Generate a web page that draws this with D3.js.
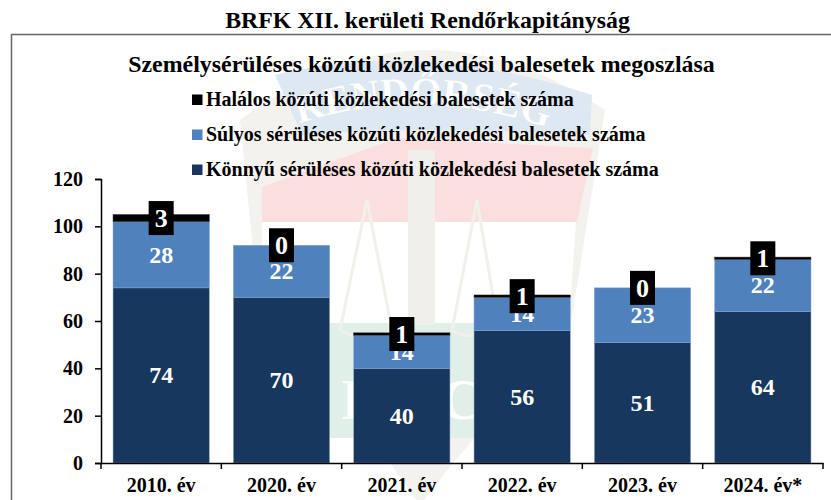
<!DOCTYPE html>
<html>
<head>
<meta charset="utf-8">
<script src="https://cdn.jsdelivr.net/npm/d3@7"></script>
<style>
  html, body { margin: 0; padding: 0; background: #fff; }
  svg { display: block; }
  text { font-family: "Liberation Serif", serif; font-weight: bold; }
</style>
</head>
<body>
<svg id="chart"></svg>
<script>
var years = ["2010. év", "2020. év", "2021. év", "2022. év", "2023. év", "2024. év*"];
var konnyu = [74, 70, 40, 56, 51, 64];
var sulyos = [28, 22, 14, 14, 23, 22];
var halalos = [3, 0, 1, 1, 0, 1];
var legendNames = [
  "Halálos közúti közlekedési balesetek száma",
  "Súlyos sérüléses közúti közlekedési balesetek száma",
  "Könnyű sérüléses közúti közlekedési balesetek száma"
];
var yTicks = [0, 20, 40, 60, 80, 100, 120];

var width = 831, height = 500;
var svg = d3.select("#chart").attr("width", width).attr("height", height);

//faint police badge behind the chart
var wm = svg.append("g");
wm.append("path").attr("d", "M240,120 Q420,-15 605,110 L570,330 L453,463 L420,505 L390,463 L262,340 Z").attr("fill", "#f4f2ee");
wm.append("path").attr("d", "M275,75 Q420,38 592,95 L590,135 Q420,125 302,135 Z").attr("fill", "#dde8f3");
wm.append("path").attr("d", "M262,187 L397,138 L593,148 L577,222 L262,222 Z").attr("fill", "#fbdfdf");
wm.append("path").attr("d", "M262,222 H576 L569,323 H262 Z").attr("fill", "#ffffff");
wm.append("path").attr("d", "M300,323 H569 L566,438 H300 Z").attr("fill", "#e0efe7");
wm.append("rect").attr("x", 408).attr("y", 150).attr("width", 27).attr("height", 175).attr("fill", "#f1efe9");
wm.append("path").attr("d", "M367,200 L340,330 M367,200 L392,330 M477,200 L452,330 M477,200 L497,320 M340,330 Q366,345 392,330 M452,330 Q475,345 497,320")
  .attr("stroke", "#f1f0eb").attr("stroke-width", 3).attr("fill", "none");
wm.append("path").attr("id", "wmArc").attr("d", "M298,124 Q420,84 548,128").attr("fill", "none");
wm.append("text").style("font-size", "40px").attr("fill", "#ffffff").attr("stroke", "#e3e5e8").attr("stroke-width", 0.3)
  .append("textPath").attr("href", "#wmArc").attr("startOffset", "50%").attr("text-anchor", "middle").text("RENDŐRSÉG");
wm.append("text").attr("x", 352).attr("y", 419).attr("text-anchor", "middle").style("font-size", "58px").attr("fill", "#fff").text("I");
wm.append("text").attr("x", 461).attr("y", 419).attr("text-anchor", "middle").style("font-size", "58px").attr("fill", "#fff").text("C");

//frame, open on the right and at the bottom
svg.append("path").attr("d", "M11.5,500 V34.5 H831").attr("fill", "none").attr("stroke", "#666").attr("stroke-width", 1.5);

svg.append("text").attr("x", 427.5).attr("y", 28).attr("text-anchor", "middle")
  .style("font-size", "23.8px").attr("fill", "#000").text("BRFK XII. kerületi Rendőrkapitányság");
svg.append("text").attr("x", 421.5).attr("y", 71.5).attr("text-anchor", "middle")
  .style("font-size", "23.9px").attr("fill", "#000").text("Személysérüléses közúti közlekedési balesetek megoszlása");

var xScale = d3.scaleBand().domain(years).range([101, 823]).paddingInner(0.2).paddingOuter(0.1);
var yScale = d3.scaleLinear().domain([0, 120]).range([463, 179]);

var rows = years.map(function(y, i) {
  return { year: y, konnyu: konnyu[i], sulyos: sulyos[i], halalos: halalos[i] };
});
var stack = d3.stack().keys(["konnyu", "sulyos", "halalos"])(rows);
var colors = { konnyu: "#17375e", sulyos: "#4f81bd", halalos: "#000000" };
var edge = { konnyu: "#8ea9cc", sulyos: "#7fa3d2", halalos: "#333333" };

stack.forEach(function(layer) {
  svg.append("g").selectAll("rect").data(layer).enter()
    .append("rect")
    .attr("x", d => xScale(d.data.year))
    .attr("y", d => yScale(d[1]))
    .attr("width", xScale.bandwidth())
    .attr("height", d => yScale(d[0]) - yScale(d[1]))
    .attr("fill", colors[layer.key])
    .style("stroke", d => d[1] > d[0] ? edge[layer.key] : "none")
    .style("stroke-width", "0.5px");
});

//white value labels, the black ones sit on top of them
stack.slice(0, 2).forEach(function(layer) {
  svg.append("g").selectAll("text").data(layer).enter()
    .append("text")
    .attr("x", d => xScale(d.data.year) + xScale.bandwidth() / 2)
    .attr("y", d => yScale((d[0] + d[1]) / 2))
    .attr("dy", "0.33em")
    .attr("text-anchor", "middle")
    .style("font-size", "24px")
    .attr("fill", "#fff")
    .text(d => d[1] - d[0]);
});

var top3 = svg.append("g").selectAll("g").data(stack[2]).enter().append("g")
  .attr("transform", d => "translate(" + (xScale(d.data.year) + xScale.bandwidth() / 2) + "," + yScale((d[0] + d[1]) / 2) + ")");
top3.append("rect").attr("x", -12.5).attr("y", -17).attr("width", 25).attr("height", 34).attr("fill", "#000");
top3.append("text").attr("dy", "0.35em").attr("text-anchor", "middle")
  .style("font-size", "26px").attr("fill", "#fff").text(d => d[1] - d[0]);

//axes
var yAxis = d3.axisLeft(yScale).tickValues(yTicks).tickSize(6).tickPadding(12);
var gy = svg.append("g").attr("transform", "translate(101,0)").call(yAxis);
gy.selectAll("text").style("font-size", "20px").attr("fill", "#000").style("font-family", "'Liberation Serif', serif");
gy.selectAll("line").attr("stroke", "#000").attr("stroke-width", 1.5);
gy.select(".domain").attr("stroke", "#000").attr("stroke-width", 1.5);

var xAxis = d3.axisBottom(xScale).tickSize(0).tickPadding(15);
var gx = svg.append("g").attr("transform", "translate(0,463)").call(xAxis);
gx.selectAll("text").style("font-size", "20px").attr("fill", "#000").style("font-family", "'Liberation Serif', serif");
gx.select(".domain").attr("stroke", "#000").attr("stroke-width", 1.5);

//category separators on the x axis
var sep = d3.range(years.length + 1).map(i => i === years.length ? 823 : xScale(years[i]) - xScale.step() * 0.1);
svg.append("g").selectAll("line").data(sep).enter().append("line")
  .attr("x1", d => d).attr("x2", d => d).attr("y1", 463).attr("y2", 469)
  .attr("stroke", "#000").attr("stroke-width", 1.5);

//legend
var legend = svg.append("g").selectAll("g").data(legendNames).enter().append("g")
  .attr("transform", (d, i) => "translate(192," + (99.5 + i * 35) + ")");
legend.append("rect").attr("y", -5).attr("width", 10.5).attr("height", 10.5)
  .attr("fill", (d, i) => ["#000000", "#4f81bd", "#17375e"][i]);
legend.append("text").attr("x", 14).attr("dy", "6.4").style("font-size", "20px").attr("fill", "#000").text(d => d);
</script>
</body>
</html>
